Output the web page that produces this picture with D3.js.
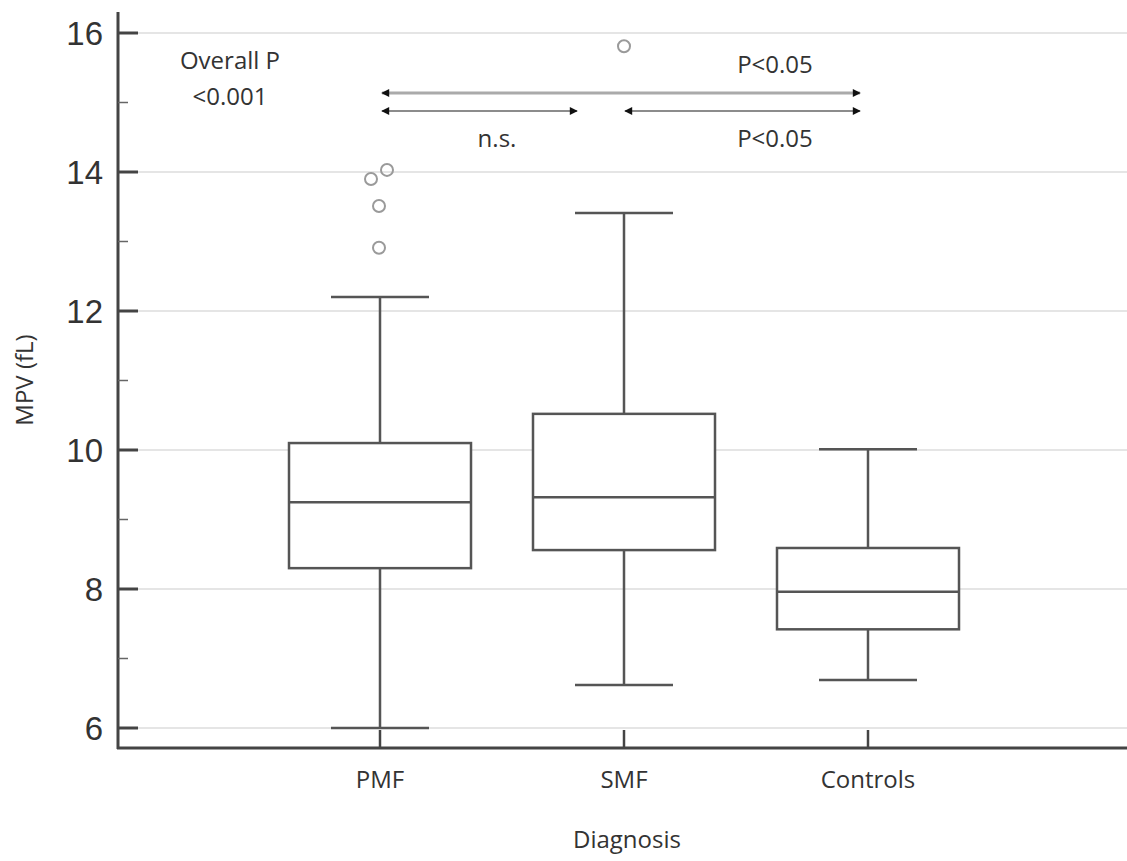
<!DOCTYPE html>
<html>
<head>
<meta charset="utf-8">
<script src="https://cdn.jsdelivr.net/npm/d3@7"></script>
<style>
  body { margin: 0; background: #fff; }
  text { fill: #333; }
</style>
</head>
<body>
<div id="chart"></div>
<script>
const width = 1127;
const height = 861;

// box plot data
const categories = ['PMF', 'SMF', 'Controls'];
const whiskerLow = [6.0, 6.62, 6.69];
const q1 = [8.30, 8.56, 7.42];
const medians = [9.25, 9.32, 7.96];
const q3 = [10.10, 10.52, 8.59];
const whiskerHigh = [12.2, 13.41, 10.01];
const outlierCat = ['PMF', 'PMF', 'PMF', 'PMF', 'SMF'];
const outlierVal = [13.9, 14.03, 13.51, 12.91, 15.81];
const outlierJitter = [-9, 7, -1, -1, 0];
const majorTicks = [6, 8, 10, 12, 14, 16];
const minorTicks = [7, 9, 11, 13, 15];

// pairwise comparisons
const compFrom = ['PMF', 'PMF', 'SMF'];
const compTo = ['Controls', 'SMF', 'Controls'];
const compLabel = ['P<0.05', 'n.s.', 'P<0.05'];

const axisX = 118, axisY = 748;
const labelFont = '"Open Sans", sans-serif';
const labelSize = '24px';

const svg = d3.select('#chart').append('svg')
  .attr('width', width).attr('height', height);

const y = d3.scaleLinear().domain([6, 16]).range([728, 33]);
const x = d3.scalePoint().domain(categories).range([380, 868]);

// grid lines
svg.append('g').selectAll('line').data(majorTicks).enter().append('line')
  .attr('x1', axisX).attr('x2', width)
  .attr('y1', d => y(d)).attr('y2', d => y(d))
  .attr('stroke', '#dcdcdc').attr('stroke-width', 1.5);

// y axis
const yAxis = svg.append('g');
yAxis.append('line')
  .attr('x1', axisX).attr('x2', axisX).attr('y1', 12).attr('y2', axisY + 1)
  .attr('stroke', '#444').attr('stroke-width', 3);
yAxis.selectAll('.major').data(majorTicks).enter().append('line')
  .attr('x1', axisX).attr('x2', axisX + 20)
  .attr('y1', d => y(d)).attr('y2', d => y(d))
  .attr('stroke', '#444').attr('stroke-width', 3);
yAxis.selectAll('.minor').data(minorTicks).enter().append('line')
  .attr('x1', axisX).attr('x2', axisX + 10)
  .attr('y1', d => y(d)).attr('y2', d => y(d))
  .attr('stroke', '#666').attr('stroke-width', 1.5);
yAxis.selectAll('text').data(majorTicks).enter().append('text')
  .attr('x', axisX - 15).attr('y', d => y(d) + 12)
  .attr('text-anchor', 'end')
  .style('font-family', '"Liberation Sans", Arial, sans-serif')
  .style('font-size', '33px')
  .text(d => d);

// x axis
const xAxis = svg.append('g');
xAxis.append('line')
  .attr('x1', axisX - 1).attr('x2', width).attr('y1', axisY).attr('y2', axisY)
  .attr('stroke', '#444').attr('stroke-width', 3);
xAxis.selectAll('line.tick').data(categories).enter().append('line')
  .attr('class', 'tick')
  .attr('x1', d => x(d)).attr('x2', d => x(d))
  .attr('y1', axisY).attr('y2', axisY - 18)
  .attr('stroke', '#444').attr('stroke-width', 2.5);
xAxis.selectAll('text').data(categories).enter().append('text')
  .attr('x', d => x(d)).attr('y', 788)
  .attr('text-anchor', 'middle')
  .style('font-family', labelFont)
  .style('font-size', labelSize)
  .text(d => d);

// axis titles
svg.append('text')
  .attr('transform', 'translate(33,380) rotate(-90)')
  .attr('text-anchor', 'middle')
  .style('font-family', labelFont)
  .style('font-size', labelSize)
  .text('MPV (fL)');
svg.append('text')
  .attr('x', 627).attr('y', 848)
  .attr('text-anchor', 'middle')
  .style('font-family', labelFont)
  .style('font-size', labelSize)
  .text('Diagnosis');

// boxes
const boxW = 182, capW = 98;
const boxStroke = '#555';
const boxes = svg.append('g').selectAll('g').data(categories).enter().append('g');
boxes.append('line')
  .attr('x1', d => x(d)).attr('x2', d => x(d))
  .attr('y1', (d, i) => y(whiskerLow[i])).attr('y2', (d, i) => y(whiskerHigh[i]))
  .attr('stroke', boxStroke).attr('stroke-width', 2.5);
boxes.append('rect')
  .attr('x', d => x(d) - boxW / 2).attr('width', boxW)
  .attr('y', (d, i) => y(q3[i])).attr('height', (d, i) => y(q1[i]) - y(q3[i]))
  .attr('fill', '#fff').attr('stroke', boxStroke).attr('stroke-width', 2.5);
boxes.append('line')
  .attr('x1', d => x(d) - boxW / 2).attr('x2', d => x(d) + boxW / 2)
  .attr('y1', (d, i) => y(medians[i])).attr('y2', (d, i) => y(medians[i]))
  .attr('stroke', boxStroke).attr('stroke-width', 2.5);
[whiskerLow, whiskerHigh].forEach(arr => {
  boxes.append('line')
    .attr('x1', d => x(d) - capW / 2).attr('x2', d => x(d) + capW / 2)
    .attr('y1', (d, i) => y(arr[i])).attr('y2', (d, i) => y(arr[i]))
    .attr('stroke', boxStroke).attr('stroke-width', 2.5);
});

// outliers
svg.append('g').selectAll('circle').data(outlierVal).enter().append('circle')
  .attr('cx', (d, i) => x(outlierCat[i]) + outlierJitter[i])
  .attr('cy', d => y(d))
  .attr('r', 6)
  .attr('fill', 'none').attr('stroke', '#9a9a9a').attr('stroke-width', 2);

// comparison arrows
const defs = svg.append('defs');
defs.append('marker').attr('id', 'head')
  .attr('viewBox', '0 0 10 10').attr('refX', 9).attr('refY', 5)
  .attr('markerWidth', 12).attr('markerHeight', 8).attr('markerUnits', 'userSpaceOnUse')
  .attr('orient', 'auto-start-reverse')
  .append('path').attr('d', 'M0,0L10,5L0,10Z').attr('fill', '#111');

const compRow = [93, 111, 111];
const compX1 = (i) => x(compFrom[i]) + 2 - (i === 2 ? 1 : 0);
const compX2 = (i) => compTo[i] === 'SMF' ? x(compTo[i]) - 47 : x(compTo[i]) - 8;
const comps = svg.append('g').selectAll('g').data(compLabel).enter().append('g');
comps.append('line')
  .attr('x1', (d, i) => compX1(i)).attr('x2', (d, i) => compX2(i))
  .attr('y1', (d, i) => compRow[i]).attr('y2', (d, i) => compRow[i])
  .attr('stroke', (d, i) => i === 0 ? '#aaa' : '#666')
  .attr('stroke-width', (d, i) => i === 0 ? 3 : 1.5)
  .attr('marker-start', 'url(#head)').attr('marker-end', 'url(#head)');
comps.append('text')
  .attr('x', (d, i) => i === 1 ? 497 : 775)
  .attr('y', (d, i) => i === 0 ? 73 : 147)
  .attr('text-anchor', 'middle')
  .style('font-family', labelFont)
  .style('font-size', labelSize)
  .text(d => d);

// overall test
svg.append('text')
  .attr('x', 230).attr('y', 69)
  .attr('text-anchor', 'middle')
  .style('font-family', labelFont)
  .style('font-size', labelSize)
  .text('Overall P');
svg.append('text')
  .attr('x', 230).attr('y', 105)
  .attr('text-anchor', 'middle')
  .style('font-family', labelFont)
  .style('font-size', labelSize)
  .text('<0.001');
</script>
</body>
</html>
